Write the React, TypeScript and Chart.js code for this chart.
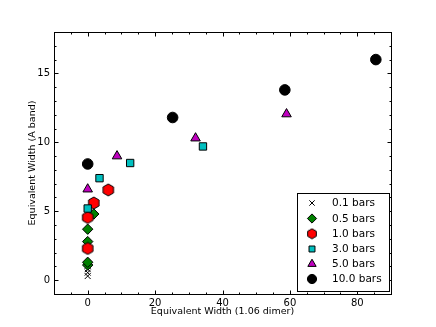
import React, { useEffect, useRef } from "react";
import { Chart, registerables } from "chart.js";
import { drawPoint } from "chart.js/helpers";

Chart.register(...registerables);

const seriesLabels = ["0.1 bars", "0.5 bars", "1.0 bars", "3.0 bars", "5.0 bars", "10.0 bars"];
const x01 = [0, 0, 0, 0];
const y01 = [0.3, 0.55, 0.8, 1.05];
const x05 = [0, 0, 0, 0, 1.8];
const y05 = [1.1, 1.3, 2.8, 3.7, 4.8];
const x10 = [0, 0, 1.8, 6.1];
const y10 = [2.3, 4.55, 5.6, 6.55];
const x30 = [0, 3.5, 12.6, 34.2];
const y30 = [5.2, 7.4, 8.5, 9.7];
const x50 = [0, 8.7, 32.0, 59.0];
const y50 = [6.6, 9.0, 10.3, 12.05];
const x100 = [0, 25.2, 58.5, 85.5];
const y100 = [8.43, 11.8, 13.8, 16.0];

const xTicks = [0, 20, 40, 60, 80];
const yTicks = [0, 5, 10, 15];

const FONT = "'DejaVu Sans', sans-serif";

function makeHexagon(r: number) {
  const size = Math.ceil(r * 2 + 2);
  const c = document.createElement("canvas");
  c.width = size;
  c.height = size;
  const ctx = c.getContext("2d")!;
  const cx = size / 2;
  const cy = size / 2;
  ctx.beginPath();
  for (let i = 0; i < 6; i++) {
    const a = Math.PI / 2 + (i * Math.PI) / 3;
    const px = cx + r * Math.cos(a);
    const py = cy - r * Math.sin(a);
    if (i === 0) ctx.moveTo(px, py);
    else ctx.lineTo(px, py);
  }
  ctx.closePath();
  ctx.fillStyle = "#ff0000";
  ctx.fill();
  ctx.lineWidth = 1;
  ctx.strokeStyle = "#000";
  ctx.stroke();
  return c;
}

function pts(xs: number[], ys: number[]) {
  return xs.map((x, i) => ({ x, y: ys[i] }));
}

export default function App() {
  const ref = useRef<HTMLCanvasElement>(null);
  useEffect(() => {
    const hex = makeHexagon(6);
    const hexSmall = makeHexagon(5);
    const styles: any[] = [
      { pointStyle: "crossRot", backgroundColor: "#000", borderColor: "#000", radius: 4.2, lr: 3.8 },
      { pointStyle: "rectRot", backgroundColor: "#008000", borderColor: "#000", radius: 5.2, lr: 4.6 },
      { pointStyle: hex, legendStyle: hexSmall, backgroundColor: "#ff0000", borderColor: "#000", radius: 6, lr: 5 },
      { pointStyle: "rect", backgroundColor: "#00bfbf", borderColor: "#000", radius: 5.2, lr: 4.2 },
      { pointStyle: "triangle", backgroundColor: "#bf00bf", borderColor: "#000", radius: 5.5, lr: 4.8 },
      { pointStyle: "circle", backgroundColor: "#000", borderColor: "#000", radius: 5.3, lr: 4.6 },
    ];
    const dataArr = [pts(x01, y01), pts(x05, y05), pts(x10, y10), pts(x30, y30), pts(x50, y50), pts(x100, y100)];

    const framePlugin = {
      id: "frameTicks",
      beforeDatasetsDraw(chart: any) {
        const { ctx, chartArea: a, scales } = chart;
        const xs = scales.x;
        const ys = scales.y;
        ctx.save();
        ctx.strokeStyle = "#000";
        ctx.lineWidth = 1;
        const L = Math.round(a.left) + 0.5;
        const R = Math.round(a.right) + 0.5;
        const T = Math.round(a.top) + 0.5;
        const B = Math.round(a.bottom) + 0.5;
        ctx.strokeRect(L, T, R - L, B - T);
        ctx.beginPath();
        for (let v = -10; v <= 90; v += 5) {
          const px = Math.round(xs.getPixelForValue(v)) + 0.5;
          if (px <= L || px >= R) continue;
          const len = v % 20 === 0 ? 4 : 2;
          ctx.moveTo(px, B);
          ctx.lineTo(px, B - len);
          ctx.moveTo(px, T);
          ctx.lineTo(px, T + len);
        }
        for (let v = -1; v <= 18; v += 1) {
          const py = Math.round(ys.getPixelForValue(v)) + 0.5;
          if (py <= T || py >= B) continue;
          const len = v % 5 === 0 ? 4 : 2;
          ctx.moveTo(L, py);
          ctx.lineTo(L + len, py);
          ctx.moveTo(R, py);
          ctx.lineTo(R - len, py);
        }
        ctx.stroke();
        ctx.restore();
      },
      afterDraw(chart: any) {
        const { ctx, chartArea: a } = chart;
        ctx.save();
        const bx = 297.5;
        const by = 193.5;
        const bw = 92;
        const bh = 98;
        ctx.fillStyle = "#fff";
        ctx.fillRect(bx, by, bw, bh);
        ctx.strokeStyle = "#000";
        ctx.lineWidth = 1;
        ctx.strokeRect(bx, by, bw, bh);
        const rows = [203, 218.5, 233.7, 249, 264, 279];
        ctx.font = `10.5px ${FONT}`;
        ctx.textBaseline = "middle";
        ctx.textAlign = "left";
        seriesLabels.forEach((lab, i) => {
          const s = styles[i];
          ctx.fillStyle = s.backgroundColor;
          ctx.strokeStyle = s.borderColor;
          ctx.lineWidth = 1;
          drawPoint(ctx, { pointStyle: s.legendStyle || s.pointStyle, rotation: 0, radius: s.lr, borderWidth: 1 } as any, 312, rows[i]);
          ctx.fillStyle = "#000";
          ctx.fillText(lab, 332, rows[i] + 0.5);
        });
        ctx.restore();
      },
    };

    const chart = new Chart(ref.current!, {
      type: "scatter",
      data: {
        datasets: seriesLabels.map((lab, i) => ({
          label: lab,
          data: dataArr[i],
          pointStyle: styles[i].pointStyle,
          pointRadius: styles[i].radius,
          pointBackgroundColor: styles[i].backgroundColor,
          pointBorderColor: styles[i].borderColor,
          pointBorderWidth: 1,
          order: 5 - i,
        })),
      },
      options: {
        animation: false,
        responsive: false,
        devicePixelRatio: 1,
        events: [],
        layout: { padding: { top: 32, right: 45, left: 0, bottom: 0 } },
        plugins: { legend: { display: false }, tooltip: { enabled: false } },
        scales: {
          x: {
            type: "linear",
            min: -10,
            max: 90,
            position: "bottom",
            afterBuildTicks: (s: any) => {
              s.ticks = xTicks.map((v) => ({ value: v }));
            },
            afterFit: (s: any) => {
              s.height = 33;
            },
            grid: { display: false, drawTicks: false },
            border: { display: false },
            ticks: { color: "#000", font: { family: FONT, size: 10 }, padding: 3, maxRotation: 0, autoSkip: false },
            title: {
              display: true,
              text: "Equivalent Width (1.06 dimer)",
              color: "#000",
              font: { family: FONT, size: 9.5 },
              padding: { top: 0, bottom: 9.3 },
            },
          },
          y: {
            type: "linear",
            min: -1,
            max: 18,
            position: "left",
            afterBuildTicks: (s: any) => {
              s.ticks = yTicks.map((v) => ({ value: v }));
            },
            afterFit: (s: any) => {
              s.width = 54;
            },
            grid: { display: false, drawTicks: false },
            border: { display: false },
            ticks: { color: "#000", font: { family: FONT, size: 10 }, padding: 4, autoSkip: false },
            title: {
              display: true,
              text: "Equivalent Width (A band)",
              color: "#000",
              font: { family: FONT, size: 9.5 },
              padding: { top: 27.3, bottom: 0 },
            },
          },
        },
      },
      plugins: [framePlugin],
    } as any);
    return () => chart.destroy();
  }, []);
  return (
    <div style={{ position: "fixed", left: 0, top: 0, width: 436, height: 327, background: "#fff" }}>
      <canvas ref={ref} width={436} height={327} style={{ display: "block", width: 436, height: 327 }} />
    </div>
  );
}
